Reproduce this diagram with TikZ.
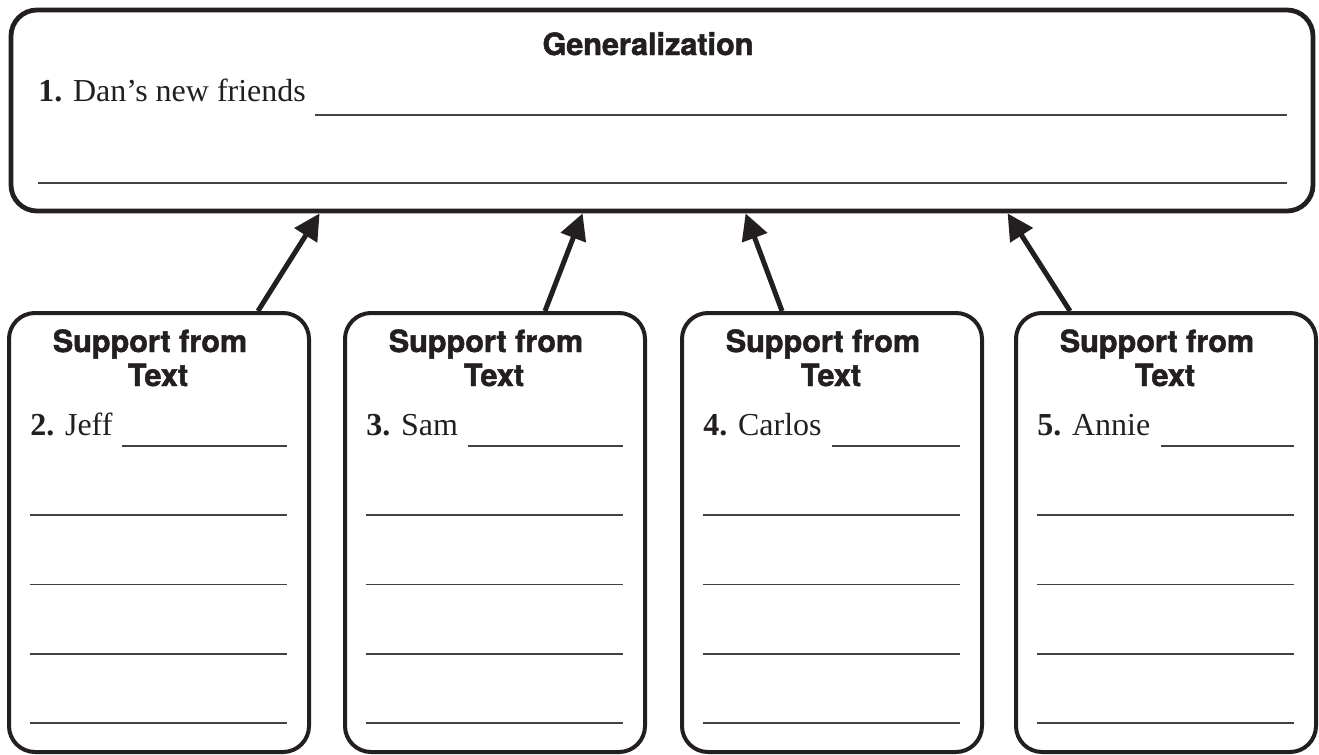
\documentclass[tikz,border=0pt]{standalone}
\usepackage{fontspec}
\setmainfont{Liberation Serif}
\newfontfamily\headfont[BoldFeatures={FakeBold=1.6}]{TeX Gyre Heros}
\usepackage{tikz}
\usetikzlibrary{positioning,arrows.meta,calc}
\definecolor{ink}{HTML}{231F20}

\begin{document}
\begin{tikzpicture}[x=0.5pt,y=-0.5pt,
  panel/.style={draw=ink,line width=2pt,rounded corners=13pt,inner sep=0pt},
  head/.style={font=\headfont\bfseries\fontsize{15.3}{17}\selectfont,text=ink,anchor=base,inner sep=0pt},
  item/.style={font=\fontsize{16}{19}\selectfont,text=ink,anchor=base west,inner sep=0pt},
  rule/.style={draw=ink!85,line width=0.75pt},
  up/.style={draw=ink,line width=2.5pt,-{Triangle[length=13pt,width=13pt]}}]
  \useasboundingbox (0,0) rectangle (1319,755);
  \node[panel,line width=2.4pt,minimum width=651pt,minimum height=100.5pt](gen) at (662,110.5){};
  \node[head](gentitle) at (648,55){Generalization};
  \node[item](q1) at (38,101){\textbf{1.} Dan's new friends};
  \draw[rule] (315,115) -- (1287,115);
  \draw[rule] (38,183) -- (1287,183);
  \foreach \i/\cx/\who/\gap [evaluate=\i as \n using int(\i+1)] in {1/159/Jeff/113,2/495/Sam/123,3/832/Carlos/150,4/1166/Annie/145}{
    \node[panel,minimum width=150pt,minimum height=219.5pt](s\i) at (\cx,532.5){};
    \node[head](sh\i) at (\cx-9,352){Support from};
    \node[head](st\i) at (\cx-1,386){Text};
    \node[item](n\i) at (\cx-129,435){\textbf{\n.} \who};
    \draw[rule] (\cx-150+\gap,446) -- (\cx+128,446);
    \foreach \y in {515,584.5,654,723}
      \draw[rule] (\cx-129,\y) -- (\cx+128,\y);
  }
  \foreach \i/\from/\to in {1/49.5/155.5,2/25/287,3/-25/368.5,4/-48/499.5}
    \draw[up] ([xshift=\from pt]s\i.north) -- ([xshift=\to pt]gen.south west);
\end{tikzpicture}
\end{document}
